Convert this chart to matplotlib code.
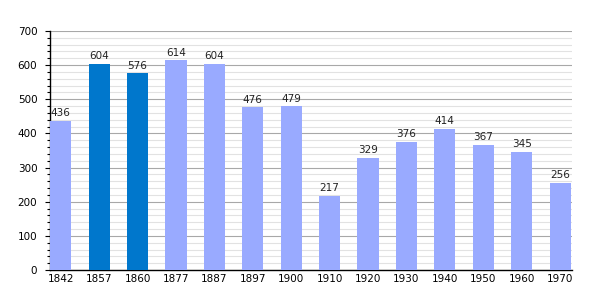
import matplotlib
matplotlib.use("Agg")
import matplotlib.pyplot as plt
from matplotlib.ticker import MultipleLocator

years = ["1842", "1857", "1860", "1877", "1887", "1897", "1900", "1910", "1920", "1930", "1940", "1950", "1960", "1970"]
population = [436, 604, 576, 614, 604, 476, 479, 217, 329, 376, 414, 367, 345, 256]
highlight = [False, True, True, False, False, False, False, False, False, False, False, False, False, False]

light = "#99AAFF"
dark = "#0077CC"

fig = plt.figure(figsize=(6, 3), dpi=100)
ax = fig.add_axes([50/600, 30/300, 522/600, 239/300])

x = list(range(len(years)))
colors = [dark if h else light for h in highlight]
ax.bar(x, population, width=0.55, color=colors, zorder=3)

for xi, v in zip(x, population):
    ax.text(xi, v + 8, str(v), ha="center", va="bottom", fontsize=7.5, color="#222222", zorder=4)

ax.set_xlim(-0.28, 13.31)
ax.set_ylim(0, 700)
ax.set_xticks(x)
ax.set_xticklabels(years, fontsize=7.5)
ax.yaxis.set_major_locator(MultipleLocator(100))
ax.yaxis.set_minor_locator(MultipleLocator(20))
ax.tick_params(axis="y", labelsize=7.5, length=3.6, width=0.8, which="major", pad=5.5)
ax.tick_params(axis="y", which="minor", length=2.2, width=0.8)
ax.tick_params(axis="x", length=0, pad=3)
ax.grid(axis="y", which="major", color="#A8A8A8", linewidth=0.8, zorder=1)
ax.grid(axis="y", which="minor", color="#E2E2E2", linewidth=0.8, zorder=0)
for s in ["top", "right"]:
    ax.spines[s].set_visible(False)
ax.spines["left"].set_linewidth(1)
ax.spines["bottom"].set_linewidth(1)

fig.savefig("out.png", dpi=100)
